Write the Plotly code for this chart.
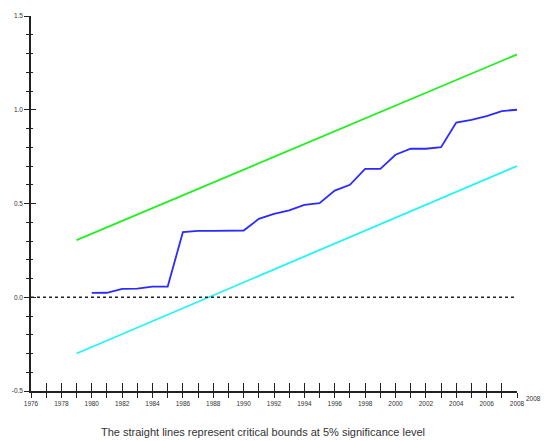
import plotly.graph_objects as go

# Data
years = list(range(1980, 2009))
cusumsq = [0.023, 0.024, 0.045, 0.046, 0.057, 0.057, 0.347, 0.354, 0.354, 0.354,
           0.356, 0.418, 0.445, 0.463, 0.493, 0.502, 0.569, 0.600, 0.685, 0.685,
           0.760, 0.792, 0.792, 0.800, 0.932, 0.946, 0.966, 0.993, 1.000]

bound_years = [1979, 2008]
upper_bound = [0.305, 1.295]
lower_bound = [-0.300, 0.700]

zero_years = [1976, 2008]
zero_values = [0.0, 0.0]

x_tickvals = list(range(1976, 2009, 2))
x_ticktext = [str(v) for v in x_tickvals]
y_tickvals = [-0.5, 0.0, 0.5, 1.0, 1.5]
y_ticktext = ["-0.5", "0.0", "0.5", "1.0", "1.5"]

caption = "The straight lines represent critical bounds at 5% significance level"

AX = "#222222"
FONT = "Liberation Sans, Arial, sans-serif"

fig = go.Figure()
fig.add_trace(go.Scatter(x=bound_years, y=upper_bound, mode="lines",
                         line=dict(color="#22ee22", width=1.8), hoverinfo="skip"))
fig.add_trace(go.Scatter(x=bound_years, y=lower_bound, mode="lines",
                         line=dict(color="#22f4f4", width=1.8), hoverinfo="skip"))
fig.add_trace(go.Scatter(x=years, y=cusumsq, mode="lines",
                         line=dict(color="#2b2bff", width=1.8), hoverinfo="skip"))
fig.add_trace(go.Scatter(x=zero_years, y=zero_values, mode="lines",
                         xaxis="x2", yaxis="y2",
                         line=dict(color="#222222", width=1.5, dash="3px,3px"),
                         hoverinfo="skip"))

fig.update_layout(
    width=544, height=441,
    margin=dict(l=31, r=27, t=16, b=50),
    paper_bgcolor="white", plot_bgcolor="white",
    showlegend=False,
    font=dict(family=FONT, color="#333333", size=7),
    xaxis=dict(range=[1976, 2008], showgrid=False, zeroline=False, automargin=False,
               showline=True, linecolor=AX, linewidth=1.5,
               tickmode="array", tickvals=x_tickvals, ticktext=x_ticktext,
               ticks="outside", ticklen=5, tickwidth=1.2, tickcolor=AX,
               minor=dict(dtick=1, tick0=1976, ticks="outside", ticklen=5,
                          tickwidth=1.2, tickcolor=AX),
               tickfont=dict(size=6.5, family=FONT, color="#333333")),
    yaxis=dict(range=[-0.5, 1.5], showgrid=False, zeroline=False, automargin=False,
               showline=True, linecolor=AX, linewidth=1.5,
               tickmode="array", tickvals=y_tickvals, ticktext=y_ticktext,
               ticks="outside", ticklen=5, tickwidth=1.2, tickcolor=AX,
               minor=dict(dtick=0.1, tick0=-0.5, ticks="outside", ticklen=3,
                          tickwidth=1.2, tickcolor=AX),
               tickfont=dict(size=6.5, family=FONT, color="#333333")),
    xaxis2=dict(range=[1976, 2008], overlaying="x", anchor="y2", side="bottom",
                showgrid=False, zeroline=False, showline=False, automargin=False,
                showticklabels=False, tickmode="linear", tick0=1976, dtick=1,
                ticks="inside", ticklen=8, tickwidth=1.2, tickcolor=AX),
    yaxis2=dict(range=[-0.5, 1.5], overlaying="y", anchor="x2", side="left",
                showgrid=False, zeroline=False, showline=False, automargin=False,
                showticklabels=False, tickmode="linear", tick0=-0.5, dtick=0.5,
                ticks="inside", ticklen=5, tickwidth=1.2, tickcolor=AX,
                minor=dict(dtick=0.1, tick0=-0.5, ticks="inside", ticklen=2,
                           tickwidth=1.2, tickcolor=AX)),
    annotations=[
        dict(text=caption, xref="paper", yref="paper", x=0.477, y=-0.109,
             xanchor="center", yanchor="middle", showarrow=False,
             font=dict(size=11, family=FONT, color="#333333")),
        dict(text="2008", xref="paper", yref="paper", x=1.033, y=-0.021,
             xanchor="center", yanchor="middle", showarrow=False,
             font=dict(size=6.5, family=FONT, color="#333333")),
    ],
)

fig.write_html("out.html", config={"displayModeBar": False},
               post_script="document.body.style.margin='0';document.body.style.overflow='hidden';")
